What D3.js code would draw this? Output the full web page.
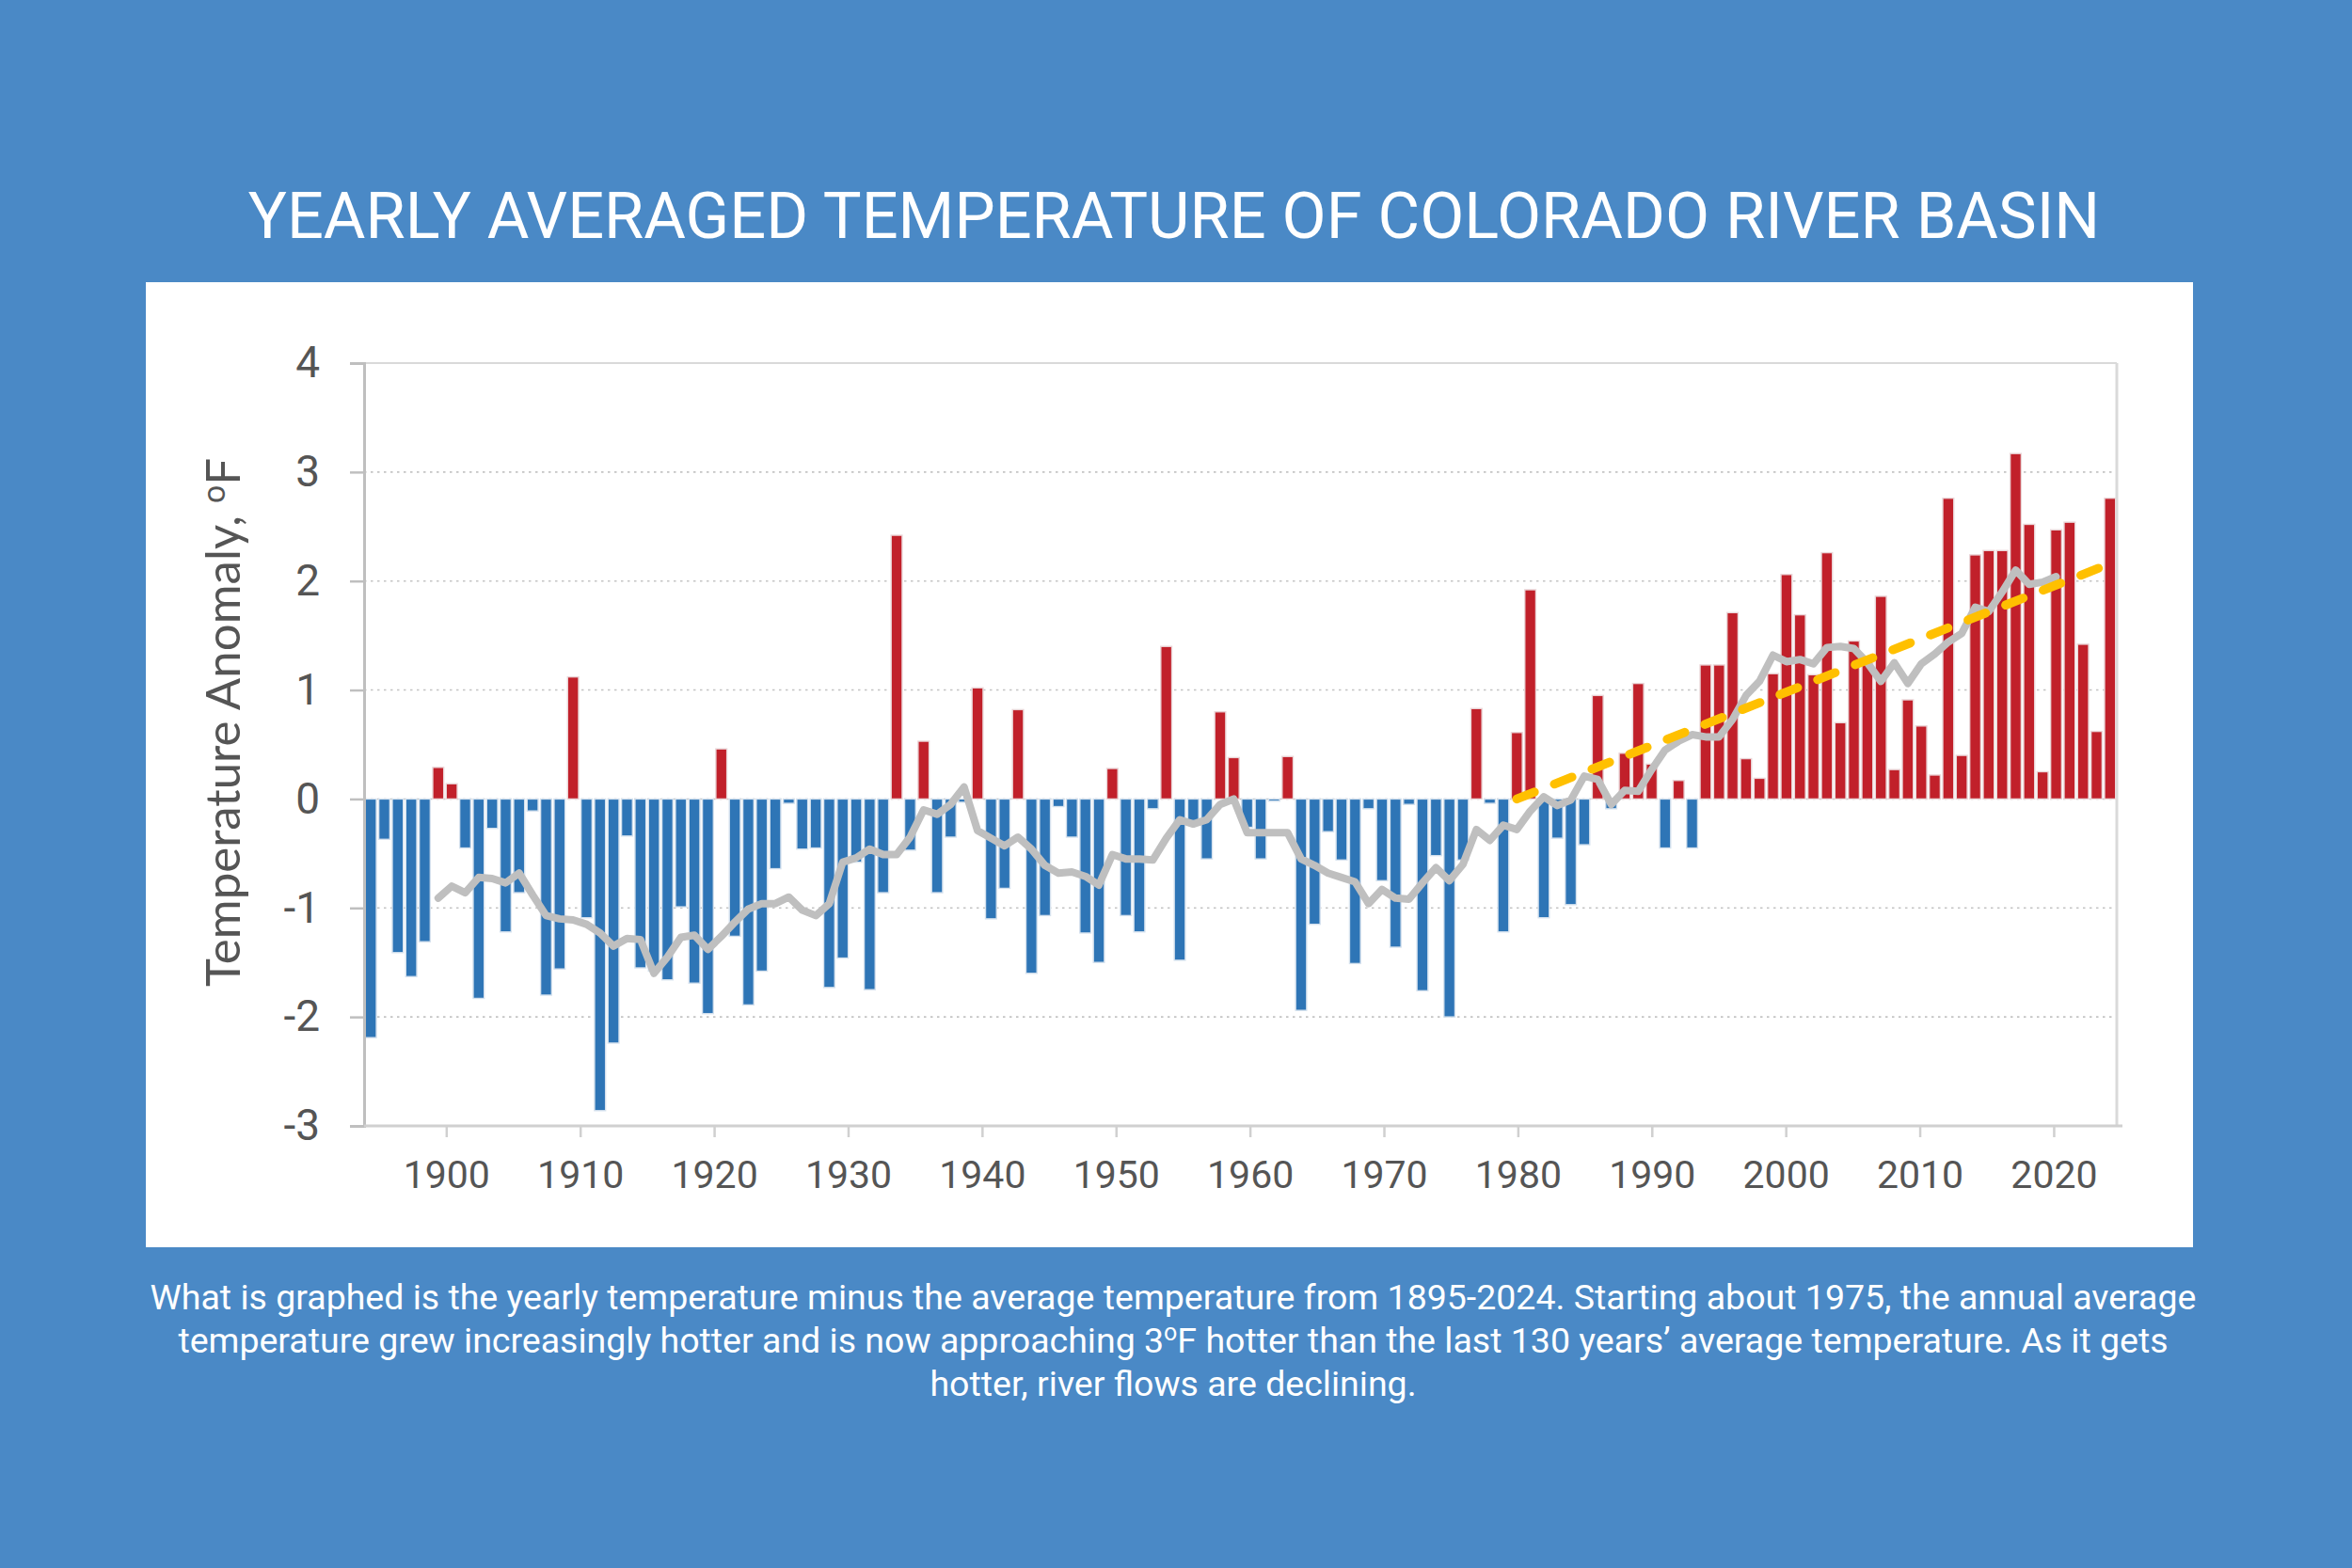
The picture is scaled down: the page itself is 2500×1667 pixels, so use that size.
<!DOCTYPE html>
<html>
<head>
<meta charset="utf-8">
<script src="https://cdn.jsdelivr.net/npm/d3@7"></script>
<style>
  body { margin: 0; background: #4a89c6; }
  svg { display: block; }
</style>
</head>
<body>
<div id="vis"></div>
<script>
// yearly temperature anomaly, 1895-2024 (deg F)
const YEARS = d3.range(1895, 2025);
const ANOMALY = [
  -2.19, -0.37, -1.41, -1.63, -1.31,
   0.29,  0.14, -0.45, -1.83, -0.27, -1.22, -0.86, -0.11, -1.80, -1.56,
   1.12, -1.09, -2.86, -2.24, -0.34, -1.55, -1.58, -1.66, -0.99, -1.69,
  -1.97,  0.46, -1.26, -1.89, -1.58, -0.64, -0.04, -0.46, -0.45, -1.73,
  -1.46, -0.58, -1.75, -0.86,  2.42, -0.47,  0.53, -0.86, -0.35, -0.03,
   1.02, -1.10, -0.82,  0.82, -1.60, -1.07, -0.07, -0.35, -1.23, -1.50,
   0.28, -1.07, -1.22, -0.09,  1.40, -1.48, -0.20, -0.55,  0.80,  0.38,
  -0.26, -0.55, -0.02,  0.39, -1.94, -1.15, -0.30, -0.56, -1.51, -0.09,
  -0.75, -1.36, -0.05, -1.76, -0.52, -2.00, -0.56,  0.83, -0.04, -1.22,
   0.61,  1.92, -1.09, -0.36, -0.97, -0.42,  0.95, -0.09,  0.42,  1.06,
   0.32, -0.45,  0.17, -0.45,  1.23,  1.23,  1.71,  0.37,  0.19,  1.15,
   2.06,  1.69,  1.14,  2.26,  0.70,  1.45,  1.30,  1.86,  0.27,  0.91,
   0.67,  0.22,  2.76,  0.40,  2.24,  2.28,  2.28,  3.17,  2.52,  0.25,
   2.47,  2.54,  1.42,  0.62,  2.76
];

// grey smoothed line, 1900-2020
const AVG_YEARS = d3.range(1900, 2021);
const AVG_VALUES = [
  -0.91, -0.80, -0.86, -0.72, -0.73, -0.77, -0.68, -0.88, -1.07, -1.10,
  -1.11, -1.15, -1.23, -1.35, -1.28, -1.29, -1.60, -1.45, -1.27, -1.25,
  -1.38, -1.26, -1.13, -1.01, -0.96, -0.96, -0.90, -1.02, -1.07, -0.96,
  -0.58, -0.54, -0.46, -0.51, -0.51, -0.35, -0.10, -0.14, -0.05,  0.11,
  -0.29, -0.36, -0.43, -0.35, -0.46, -0.61, -0.68, -0.67, -0.71, -0.79,
  -0.51, -0.55, -0.55, -0.56, -0.36, -0.19, -0.23, -0.19, -0.05,  0.00,
  -0.31, -0.31, -0.31, -0.31, -0.55, -0.61, -0.68, -0.72, -0.76, -0.96,
  -0.83, -0.91, -0.92, -0.77, -0.63, -0.75, -0.60, -0.28, -0.38, -0.24,
  -0.28, -0.11,  0.02, -0.06, -0.01,  0.21,  0.18, -0.05,  0.08,  0.07,
   0.27,  0.45,  0.53,  0.59,  0.57,  0.57,  0.73,  0.95,  1.08,  1.32,
   1.26,  1.28,  1.24,  1.39,  1.40,  1.38,  1.25,  1.08,  1.25,  1.06,
   1.24,  1.33,  1.44,  1.52,  1.76,  1.72,  1.90,  2.10,  1.97,  1.99,
   2.04
];

// yellow dashed trend line
const TREND_YEARS = [1980, 2023.4];
const TREND_VALUES = [0.0, 2.13];

const Y_TICKS = [-3, -2, -1, 0, 1, 2, 3, 4];
const X_TICKS = [1900, 1910, 1920, 1930, 1940, 1950, 1960, 1970, 1980, 1990, 2000, 2010, 2020];

const TITLE = "YEARLY AVERAGED TEMPERATURE OF COLORADO RIVER BASIN";
const CAPTION = [
  ["What is graphed is the yearly temperature minus the average temperature from 1895-2024. Starting about 1975, the annual average"],
  ["temperature grew increasingly hotter and is now approaching 3", "o", "F hotter than the last 130 years\u2019 average temperature. As it gets"],
  ["hotter, river flows are declining."]
];

const FRAME_WIDTH = 2500;
const FRAME_HEIGHT = 1667;
const PANEL = {left: 155, top: 300, width: 2176, height: 1026};
const MARGINS = {left: 387, right: 250, top: 386, bottom: 470};

const VIS_WIDTH = FRAME_WIDTH - MARGINS.left - MARGINS.right;
const VIS_HEIGHT = FRAME_HEIGHT - MARGINS.top - MARGINS.bottom;

const BLUE = "#2e75b6";
const RED = "#c1202a";
const TEXT_GREY = "#555555";

const FRAME = d3.select("#vis")
                .append("svg")
                  .attr("width", FRAME_WIDTH)
                  .attr("height", FRAME_HEIGHT);

FRAME.append("rect")
        .attr("width", FRAME_WIDTH)
        .attr("height", FRAME_HEIGHT)
        .attr("fill", "#4a89c6");

// white card behind the chart
FRAME.append("rect")
        .attr("x", PANEL.left)
        .attr("y", PANEL.top)
        .attr("width", PANEL.width)
        .attr("height", PANEL.height)
        .attr("fill", "white");

// title
FRAME.append("text")
        .attr("x", 1248)
        .attr("y", 253)
        .attr("text-anchor", "middle")
        .attr("font-family", "Roboto")
        .attr("font-size", "68.5px")
        .attr("fill", "white")
        .text(TITLE);

const X_SCALE = d3.scaleLinear()
                    .domain([1894.5, 2024.5])
                    .range([0, VIS_WIDTH]);

// the year labels sit on their own slightly shorter axis in the original
const X_TICK_SCALE = d3.scaleLinear()
                    .domain([1894.5, 2024.5])
                    .range([9, VIS_WIDTH - 3]);

const Y_SCALE = d3.scaleLinear()
                    .domain([-3, 4])
                    .range([VIS_HEIGHT, 0]);

const PLOT = FRAME.append("g")
                .attr("transform", "translate(" + MARGINS.left + "," + MARGINS.top + ")");

// dotted gridlines
PLOT.selectAll(".grid")
      .data(Y_TICKS.filter(d => d > -3 && d < 4))
      .enter()
      .append("line")
        .attr("class", "grid")
        .attr("x1", 0)
        .attr("x2", VIS_WIDTH)
        .attr("y1", d => Y_SCALE(d))
        .attr("y2", d => Y_SCALE(d))
        .attr("stroke", "#c4c4c4")
        .attr("stroke-width", 1.6)
        .attr("stroke-dasharray", "2.5,4.5");

// top and right frame
PLOT.append("line")
      .attr("x1", 0).attr("x2", VIS_WIDTH)
      .attr("y1", Y_SCALE(4)).attr("y2", Y_SCALE(4))
      .attr("stroke", "#d9d9d9")
      .attr("stroke-width", 2);

PLOT.append("line")
      .attr("x1", VIS_WIDTH).attr("x2", VIS_WIDTH)
      .attr("y1", Y_SCALE(4)).attr("y2", Y_SCALE(-3))
      .attr("stroke", "#d9d9d9")
      .attr("stroke-width", 3);

// bars
const STEP = X_SCALE(1) - X_SCALE(0);
const BAR_PAD = 1.3;

PLOT.selectAll(".bar")
      .data(YEARS.map((y, i) => ({year: y, value: ANOMALY[i]})))
      .enter()
      .append("rect")
        .attr("class", "bar")
        .attr("x", d => X_SCALE(d.year - 0.5) + BAR_PAD)
        .attr("width", STEP - 2 * BAR_PAD)
        .attr("y", d => Y_SCALE(Math.max(0, d.value)))
        .attr("height", d => Math.abs(Y_SCALE(d.value) - Y_SCALE(0)))
        .attr("fill", d => d.value >= 0 ? RED : BLUE)
        .attr("stroke", d => d.value >= 0 ? "#ead6d8" : "#d6e2ee")
        .attr("stroke-width", 1.4);

// grey smoothed line
const line = d3.line()
                .x(d => X_SCALE(d[0]))
                .y(d => Y_SCALE(d[1]));

PLOT.append("path")
      .datum(AVG_YEARS.map((y, i) => [y, AVG_VALUES[i]]))
      .attr("d", line)
      .attr("fill", "none")
      .attr("stroke", "#bfbfbf")
      .attr("stroke-width", 8)
      .attr("stroke-linejoin", "round")
      .attr("stroke-linecap", "round");

// yellow dashed trend
PLOT.append("path")
      .datum(TREND_YEARS.map((y, i) => [y, TREND_VALUES[i]]))
      .attr("d", line)
      .attr("fill", "none")
      .attr("stroke", "#ffc000")
      .attr("stroke-width", 9.5)
      .attr("stroke-linecap", "round")
      .attr("stroke-dasharray", "20,23");

// y axis
const yAxis = PLOT.append("g")
      .call(d3.axisLeft(Y_SCALE).tickValues(Y_TICKS).tickSize(15).tickPadding(32).tickFormat(d3.format("d")))
      .attr("font-size", "46px")
      .attr("font-family", "Roboto");

yAxis.select(".domain")
      .attr("stroke", "#bfbfbf")
      .attr("stroke-width", 3);
yAxis.selectAll(".tick line")
      .attr("stroke", "#bfbfbf")
      .attr("stroke-width", 2.5);
yAxis.selectAll(".tick text")
      .attr("fill", TEXT_GREY)
      .text(d => d < 0 ? "-" + Math.abs(d) : d);

// x axis
PLOT.append("line")
      .attr("x1", 0).attr("x2", VIS_WIDTH + 6)
      .attr("y1", Y_SCALE(-3)).attr("y2", Y_SCALE(-3))
      .attr("stroke", "#d0d0d0")
      .attr("stroke-width", 3);

const xAxis = PLOT.append("g")
      .attr("transform", "translate(0," + VIS_HEIGHT + ")")
      .call(d3.axisBottom(X_TICK_SCALE).tickValues(X_TICKS).tickSize(12).tickPadding(25).tickFormat(d3.format("d")))
      .attr("font-size", "41px")
      .attr("font-family", "Roboto");

xAxis.select(".domain").remove();
xAxis.selectAll(".tick line")
      .attr("stroke", "#d0d0d0")
      .attr("stroke-width", 2.5);
xAxis.selectAll(".tick text")
      .attr("fill", TEXT_GREY);

// y axis title
const yTitle = FRAME.append("text")
      .attr("transform", "translate(255,768) rotate(-90)")
      .attr("text-anchor", "middle")
      .attr("font-family", "Lato")
      .attr("font-size", "51px")
      .attr("fill", TEXT_GREY);
yTitle.append("tspan").text("Temperature Anomaly, ");
yTitle.append("tspan").attr("font-size", "34px").attr("dy", -16).text("o");
yTitle.append("tspan").attr("dy", 16).text("F");

// caption under the card
CAPTION.forEach((parts, i) => {
  const t = FRAME.append("text")
        .attr("x", 1247)
        .attr("y", 1392 + i * 46)
        .attr("text-anchor", "middle")
        .attr("font-family", "Roboto")
        .attr("font-size", "37.5px")
        .attr("fill", "white");
  t.append("tspan").text(parts[0]);
  if (parts.length > 1) {
    t.append("tspan").attr("font-size", "25px").attr("dy", -13).text(parts[1]);
    t.append("tspan").attr("dy", 13).text(parts[2]);
  }
});
</script>
</body>
</html>
